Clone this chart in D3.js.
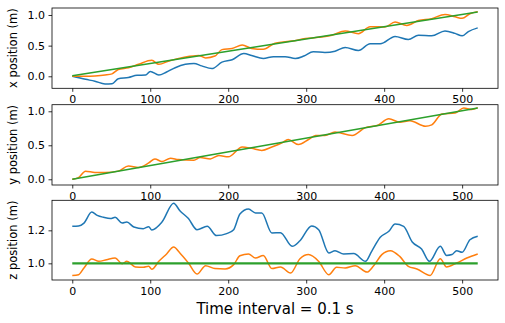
<!DOCTYPE html>
<html>
<head>
<meta charset="utf-8">
<script src="https://cdn.jsdelivr.net/npm/d3@7"></script>
<style>
  body { margin: 0; background: #fff; }
  svg { display: block; font-family: "DejaVu Sans", sans-serif; }
</style>
</head>
<body>
<div id="chart"></div>
<script>
// time samples (units of 0.1 s)
const tX = [0, 17, 29, 42, 51, 59, 72, 83, 94, 100, 111, 121, 132, 145, 156, 166, 179, 192, 205, 220, 230, 245, 258, 273, 286, 297, 309, 324, 337, 350, 367, 382, 395, 414, 431, 444, 461, 478, 491, 500, 508, 520]
const xBlue = [0.0, -0.05, -0.08, -0.125, -0.12, -0.04, -0.02, 0.015, 0.02, 0.08, 0.02, 0.07, 0.14, 0.195, 0.21, 0.17, 0.125, 0.23, 0.27, 0.37, 0.34, 0.29, 0.32, 0.32, 0.29, 0.33, 0.40, 0.39, 0.41, 0.47, 0.42, 0.53, 0.53, 0.65, 0.60, 0.67, 0.66, 0.74, 0.70, 0.66, 0.73, 0.79]

const tXo = [0, 17, 29, 42, 51, 59, 72, 85, 102, 111, 124, 145, 162, 171, 183, 192, 205, 218, 230, 245, 260, 282, 299, 316, 333, 350, 367, 382, 401, 414, 429, 444, 461, 478, 491, 500, 510, 520]
const xOrange = [0.0, 0.0, 0.005, 0.02, 0.04, 0.11, 0.14, 0.195, 0.26, 0.195, 0.25, 0.315, 0.34, 0.30, 0.33, 0.435, 0.455, 0.51, 0.455, 0.44, 0.54, 0.575, 0.615, 0.635, 0.67, 0.74, 0.695, 0.81, 0.805, 0.885, 0.83, 0.91, 0.94, 1.01, 0.97, 0.945, 1.02, 1.055]

const tRef = [0, 520]
const xGreen = [0.01, 1.05]

const tY = [0, 8, 17, 29, 42, 59, 72, 85, 98, 106, 115, 126, 136, 156, 164, 177, 188, 200, 218, 230, 243, 256, 269, 277, 290, 303, 312, 324, 337, 359, 376, 391, 406, 420, 433, 453, 461, 474, 491, 502, 512, 520]
const yOrange = [0.0, 0.025, 0.12, 0.10, 0.10, 0.12, 0.195, 0.175, 0.24, 0.30, 0.26, 0.31, 0.29, 0.28, 0.32, 0.30, 0.35, 0.33, 0.475, 0.455, 0.425, 0.475, 0.535, 0.585, 0.51, 0.585, 0.645, 0.645, 0.695, 0.645, 0.76, 0.79, 0.89, 0.84, 0.86, 0.78, 0.80, 0.96, 0.975, 1.05, 1.025, 1.055]
const yGreen = [0.0, 1.05]

const tZ = [0, 8, 15, 25, 32, 40, 49, 55, 64, 70, 79, 91, 98, 102, 115, 130, 138, 149, 160, 173, 185, 198, 207, 215, 226, 235, 243, 256, 267, 282, 292, 307, 316, 329, 337, 348, 361, 376, 384, 395, 406, 414, 425, 436, 448, 458, 472, 480, 487, 493, 500, 510, 520]
const zBlue = [1.224, 1.226, 1.244, 1.311, 1.291, 1.279, 1.271, 1.279, 1.244, 1.25, 1.22, 1.21, 1.222, 1.202, 1.25, 1.364, 1.319, 1.271, 1.204, 1.224, 1.168, 1.18, 1.204, 1.299, 1.329, 1.305, 1.305, 1.184, 1.186, 1.103, 1.137, 1.226, 1.204, 1.063, 1.077, 1.057, 1.059, 1.012, 1.073, 1.158, 1.194, 1.238, 1.224, 1.129, 1.087, 1.012, 1.103, 1.048, 1.053, 1.077, 1.067, 1.143, 1.164]

const tZo = [0, 8, 15, 25, 34, 44, 55, 64, 70, 81, 91, 98, 102, 111, 121, 130, 138, 149, 160, 171, 183, 196, 207, 215, 226, 235, 245, 256, 267, 280, 292, 303, 316, 329, 339, 350, 363, 378, 386, 397, 408, 420, 431, 442, 459, 472, 480, 493, 506, 520]
const zOrange = [0.927, 0.931, 0.972, 1.026, 1.012, 1.022, 1.032, 0.998, 1.012, 0.978, 0.976, 0.982, 0.964, 1.012, 1.057, 1.099, 1.063, 1.002, 0.935, 0.986, 0.968, 0.966, 0.992, 1.046, 1.057, 1.032, 1.048, 0.968, 0.978, 0.941, 1.028, 1.053, 1.012, 0.931, 0.976, 0.972, 0.986, 0.947, 0.982, 1.053, 1.077, 1.042, 0.982, 0.966, 0.927, 1.028, 0.978, 1.002, 1.032, 1.057]
const zGreen = [1.0, 1.0]

const xTicks = [0, 100, 200, 300, 400, 500]
const yTicks1 = [0.0, 0.5, 1.0]
const yTicks2 = [0.0, 0.5, 1.0]
const yTicks3 = [1.0, 1.2]

const W = 505, H = 323
const left = 52, right = 498

const blue = "#1f77b4", orange = "#ff7f0e", green = "#2ca02c"

const svg = d3.select("#chart").append("svg")
  .attr("width", W)
  .attr("height", H)

svg.append("rect").attr("width", W).attr("height", H).attr("fill", "#fff")

const x = d3.scaleLinear().domain([-26, 546]).range([left, right])

const panels = [
  {top: 8, bottom: 88.3, domain: [-0.196, 1.114], ticks: yTicks1, label: "x position (m)",
   series: [
     {t: tX, v: xBlue, color: blue, w: 1.5},
     {t: tXo, v: xOrange, color: orange, w: 1.5},
     {t: tRef, v: xGreen, color: green, w: 1.5}
   ]},
  {top: 104.7, bottom: 185, domain: [-0.084, 1.097], ticks: yTicks2, label: "y position (m)",
   series: [
     {t: tY, v: yOrange, color: orange, w: 1.5},
     {t: tRef, v: yGreen, color: green, w: 1.5}
   ]},
  {top: 200.3, bottom: 280, domain: [0.899, 1.382], ticks: yTicks3, label: "z position (m)",
   series: [
     {t: tZ, v: zBlue, color: blue, w: 1.5},
     {t: tZo, v: zOrange, color: orange, w: 1.5},
     {t: tRef, v: zGreen, color: green, w: 2.2}
   ]}
]

panels.forEach((p, i) => {
  const y = d3.scaleLinear().domain(p.domain).range([p.bottom, p.top])
  const g = svg.append("g")

  const clipId = "clip" + i
  svg.append("clipPath").attr("id", clipId)
    .append("rect")
    .attr("x", left).attr("y", p.top)
    .attr("width", right - left).attr("height", p.bottom - p.top)

  const line = d3.line()
    .x(d => x(d[0]))
    .y(d => y(d[1]))
    .curve(d3.curveMonotoneX)

  p.series.forEach(s => {
    g.append("path")
      .datum(s.t.map((t, k) => [t, s.v[k]]))
      .attr("clip-path", `url(#${clipId})`)
      .attr("fill", "none")
      .attr("stroke", s.color)
      .attr("stroke-width", s.w)
      .attr("stroke-linejoin", "round")
      .attr("d", line)
  })

  // axes
  const xAxis = g.append("g")
    .attr("transform", `translate(0,${p.bottom})`)
    .call(d3.axisBottom(x).tickValues(xTicks).tickSize(3.5).tickPadding(3.5).tickFormat(d3.format("d")))
  const yAxis = g.append("g")
    .attr("transform", `translate(${left},0)`)
    .call(d3.axisLeft(y).tickValues(p.ticks).tickSize(3.5).tickPadding(3.5).tickFormat(d3.format(".1f")))

  ;[xAxis, yAxis].forEach(a => {
    a.select(".domain").remove()
    a.selectAll("line").attr("stroke", "#000").attr("stroke-width", 0.8)
    a.selectAll("text").attr("fill", "#000").style("font-size", "11px")
      .style("font-family", "DejaVu Sans, sans-serif")
  })

  // frame
  g.append("rect")
    .attr("x", left).attr("y", p.top)
    .attr("width", right - left).attr("height", p.bottom - p.top)
    .attr("fill", "none")
    .attr("stroke", "#000")
    .attr("stroke-width", 0.8)

  // y label
  g.append("text")
    .attr("transform", `translate(17,${(p.top + p.bottom) / 2}) rotate(-90)`)
    .attr("text-anchor", "middle")
    .style("font-size", "11.5px")
    .text(p.label)
})

svg.append("text")
  .attr("x", (left + right) / 2)
  .attr("y", 314)
  .attr("text-anchor", "middle")
  .style("font-size", "15px")
  .text("Time interval = 0.1 s")
</script>
</body>
</html>
